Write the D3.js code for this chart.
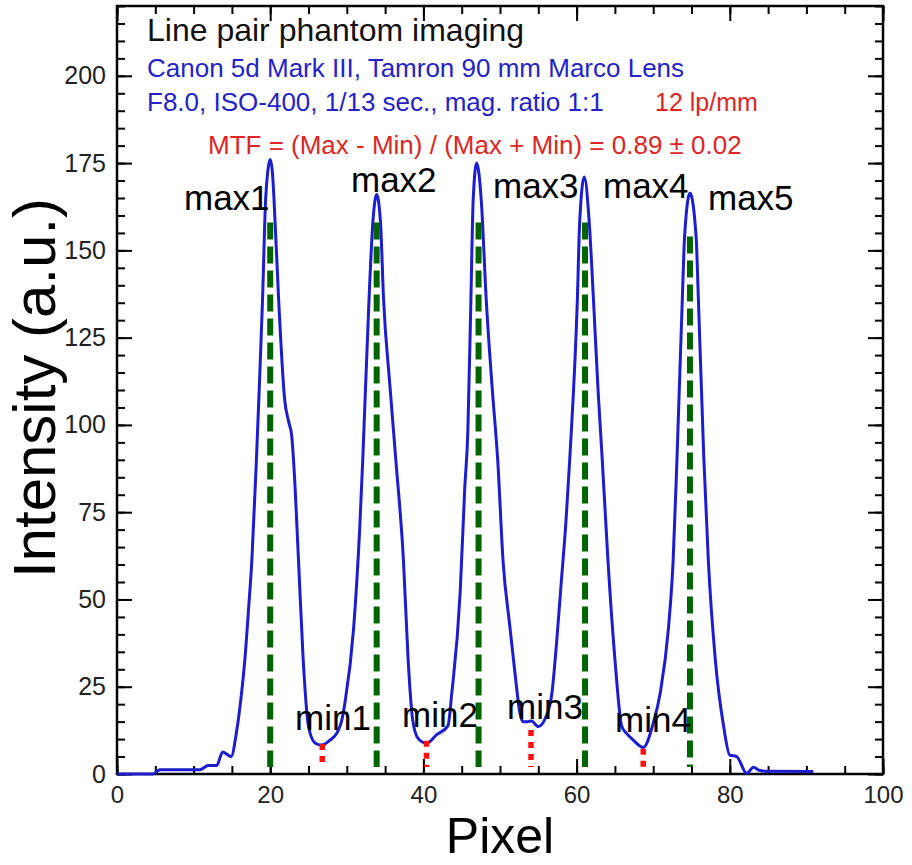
<!DOCTYPE html>
<html>
<head>
<meta charset="utf-8">
<script src="https://cdn.jsdelivr.net/npm/d3@7"></script>
<style>
  html, body { margin: 0; padding: 0; background: #fff; }
  svg text { font-family: "Liberation Sans", Arial, sans-serif; }
</style>
</head>
<body>
<svg id="chart" width="912" height="865"></svg>
<script>
// ---------------- data ----------------
const pixel = [0, 4.7, 5.6, 10.8, 11.9, 13.0, 13.8, 14.9, 15.6, 16.2, 16.7, 17.2, 17.6, 18.2, 18.6, 19.0, 19.4, 19.7, 20.0, 20.3, 20.5, 21.1, 21.9, 22.4, 22.8, 23.1, 23.7, 24.3, 25.0, 25.85, 26.7, 27.8, 28.7, 29.3, 29.8, 30.9, 31.7, 32.1, 32.9, 33.4, 33.9, 34.4, 34.8, 35.6, 36.4, 37.4, 38.0, 38.6, 39.3, 40.4, 41.7, 43.2, 43.7, 44.8, 45.4, 45.8, 46.2, 46.5, 46.95, 47.55, 48.2, 49.0, 49.7, 50.4, 51.3, 52.0, 52.6, 53.0, 53.6, 54.1, 55.0, 56.0, 56.8, 57.4, 58.0, 58.6, 59.1, 60.1, 60.4, 61.0, 61.65, 62.2, 62.8, 63.35, 64.1, 65.0, 65.9, 66.5, 67.4, 68.7, 70.0, 70.9, 72.0, 72.6, 73.1, 73.8, 74.1, 74.8, 75.6, 75.9, 76.6, 77.2, 78.1, 79.2, 80.0, 80.9, 82.2, 83.1, 83.9, 84.8, 90.9];
const intensity = [0, 0, 1.2, 1.2, 2.4, 2.4, 6.3, 5.0, 12, 22, 33, 48, 61, 90, 112, 136, 164.5, 173, 176, 172, 164.5, 136, 107, 101, 97, 88, 61, 33, 13.6, 8.9, 8.3, 9.7, 11.7, 15, 21, 42, 71, 91, 136, 158, 166, 158, 136, 112, 90, 61, 33, 15.5, 10.2, 8.8, 11.2, 13.8, 23, 52, 82, 98, 136, 164.5, 175, 164.5, 136, 110, 90, 61, 42, 28, 17.4, 15, 15, 15.2, 13.6, 16.4, 23.5, 38, 55, 72, 90, 136, 158, 171, 158, 136, 110, 90, 61, 33, 13.6, 11.7, 9.7, 7.6, 14.5, 23, 42, 61, 90, 136, 154, 166.4, 154, 136, 91, 61, 33, 13.6, 5.4, 5.0, 0.2, 1.9, 1.0, 0.8, 0.7];

const maxNames = ["max1", "max2", "max3", "max4", "max5"];
const maxPixel = [20.0, 33.9, 47.2, 61.1, 74.8];
const maxLevel = [158, 158, 158, 158, 154];

const minNames = ["min1", "min2", "min3", "min4"];
const minPixel = [26.8, 40.4, 54.05, 68.7];
const minLevel = [8.6, 9.5, 12.6, 7.2];

const xTickValues = [0, 20, 40, 60, 80, 100];
const yTickValues = [0, 25, 50, 75, 100, 125, 150, 175, 200];

const titleText = "Line pair phantom imaging";
const cameraText = "Canon 5d Mark III, Tamron 90 mm Marco Lens";
const settingsText = "F8.0, ISO-400, 1/13 sec., mag. ratio 1:1";
const freqText = "12 lp/mm";
const mtfText = "MTF = (Max - Min) / (Max + Min) = 0.89 \u00B1 0.02";

// ---------------- layout ----------------
const padL = 117, padR = 883, padT = 6, padB = 774;
const svg = d3.select("#chart");

const x = d3.scaleLinear().domain([0, 100]).range([padL, padR]);
const y = d3.scaleLinear().domain([0, 220]).range([padB, padT]);

const minorX = d3.range(0, 101, 5);
const minorY = d3.range(0, 221, 5);

function styleAxis(g) {
  g.select(".domain").remove();
  g.selectAll(".tick line").attr("stroke", "#000").attr("stroke-width", 2);
  g.selectAll(".tick text").attr("fill", "#222")
    .style("font-family", "'Liberation Sans', Arial, sans-serif");
}

// minor ticks
svg.append("g").attr("transform", `translate(0,${padB})`)
  .call(d3.axisBottom(x).tickValues(minorX).tickSize(-8).tickFormat(""))
  .call(styleAxis);
svg.append("g").attr("transform", `translate(0,${padT})`)
  .call(d3.axisTop(x).tickValues(minorX).tickSize(-8).tickFormat(""))
  .call(styleAxis);
svg.append("g").attr("transform", `translate(${padL},0)`)
  .call(d3.axisLeft(y).tickValues(minorY).tickSize(-8).tickFormat(""))
  .call(styleAxis);
svg.append("g").attr("transform", `translate(${padR},0)`)
  .call(d3.axisRight(y).tickValues(minorY).tickSize(-8).tickFormat(""))
  .call(styleAxis);

// major ticks with labels
const gx = svg.append("g").attr("transform", `translate(0,${padB})`)
  .call(d3.axisBottom(x).tickValues(xTickValues).tickSize(-15).tickPadding(12).tickFormat(d3.format("d")))
  .call(styleAxis);
gx.selectAll(".tick text").attr("font-size", 24);
svg.append("g").attr("transform", `translate(0,${padT})`)
  .call(d3.axisTop(x).tickValues(xTickValues).tickSize(-15).tickFormat(""))
  .call(styleAxis);
const gy = svg.append("g").attr("transform", `translate(${padL},0)`)
  .call(d3.axisLeft(y).tickValues(yTickValues).tickSize(-15).tickPadding(11).tickFormat(d3.format("d")))
  .call(styleAxis);
gy.selectAll(".tick text").attr("font-size", 25);
svg.append("g").attr("transform", `translate(${padR},0)`)
  .call(d3.axisRight(y).tickValues(yTickValues).tickSize(-15).tickFormat(""))
  .call(styleAxis);

// frame
svg.append("rect")
  .attr("x", padL).attr("y", padT)
  .attr("width", padR - padL).attr("height", padB - padT)
  .attr("fill", "none").attr("stroke", "#000").attr("stroke-width", 2.5);

// curve
const pts = pixel.map((p, i) => [p, intensity[i]]);
const line = d3.line().x(d => x(d[0])).y(d => y(d[1])).curve(d3.curveMonotoneX);
svg.append("path").datum(pts)
  .attr("d", line)
  .attr("fill", "none")
  .attr("stroke", "#1c1cd0")
  .attr("stroke-width", 3)
  .attr("stroke-linejoin", "round");

// max markers (green dashed)
svg.append("g").selectAll("line").data(maxPixel).join("line")
  .attr("x1", d => x(d)).attr("x2", d => x(d))
  .attr("y1", (d, i) => y(maxLevel[i])).attr("y2", y(2))
  .attr("stroke", "#006400").attr("stroke-width", 6)
  .attr("stroke-dasharray", "17,7");

// min markers (red dotted)
svg.append("g").selectAll("line").data(minPixel).join("line")
  .attr("x1", d => x(d)).attr("x2", d => x(d))
  .attr("y1", (d, i) => y(minLevel[i])).attr("y2", y(2))
  .attr("stroke", "#ff1010").attr("stroke-width", 5.5)
  .attr("stroke-dasharray", "6,6");

// text helper
function label(px, py, txt, size, color, anchor) {
  svg.append("text")
    .attr("x", px).attr("y", py)
    .attr("font-size", size)
    .attr("fill", color)
    .attr("text-anchor", anchor || "start")
    .text(txt);
}

// annotation text
label(147, 41, titleText, 32, "#111");
label(147, 77, cameraText, 26, "#2323c8");
label(147, 111, settingsText, 26, "#2323c8");
label(655, 111, freqText, 25, "#e02424");
label(208, 154, mtfText, 26, "#e02424");

// max / min labels
const maxLabelPos = [[184, 210], [351, 192], [493, 198], [603, 198], [708, 210]];
maxNames.forEach((n, i) => label(maxLabelPos[i][0], maxLabelPos[i][1], n, 35, "#000"));
const minLabelPos = [[295, 730], [402, 727], [507, 719], [615, 732]];
minNames.forEach((n, i) => label(minLabelPos[i][0], minLabelPos[i][1], n, 35, "#000"));

// axis titles
svg.append("text")
  .attr("transform", `translate(55,${(padT + padB) / 2 - 2}) rotate(-90)`)
  .attr("text-anchor", "middle")
  .attr("font-size", 60)
  .attr("fill", "#000")
  .text("Intensity (a.u.)");
svg.append("text")
  .attr("x", (padL + padR) / 2).attr("y", 853)
  .attr("text-anchor", "middle")
  .attr("font-size", 50)
  .attr("fill", "#000")
  .text("Pixel");
</script>
</body>
</html>
